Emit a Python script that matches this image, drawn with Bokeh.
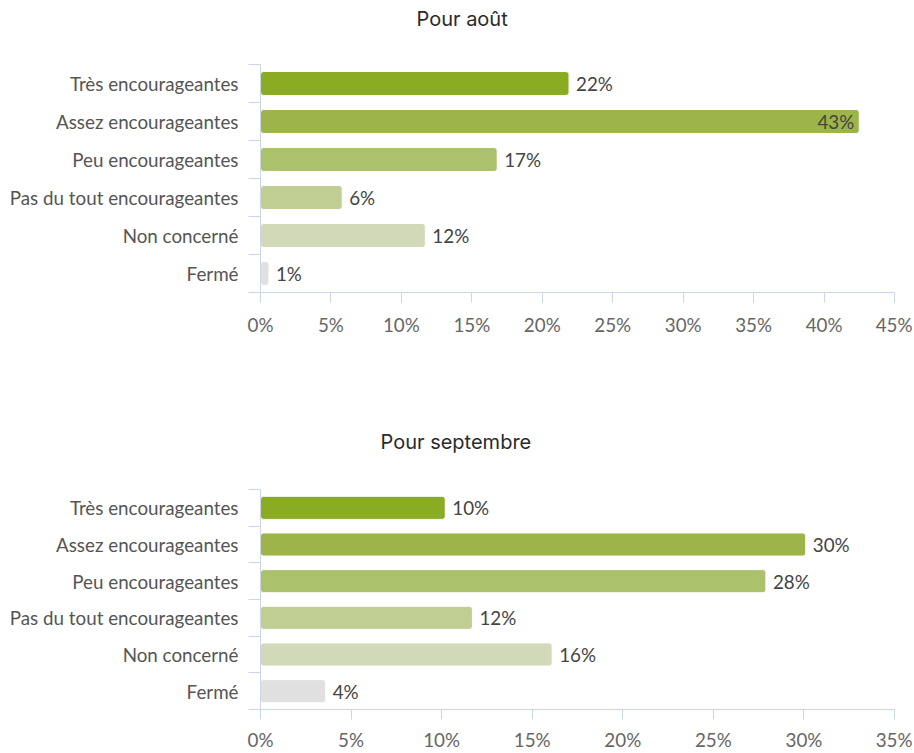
from bokeh.plotting import figure
from bokeh.models import (ColumnDataSource, Range1d, FixedTicker, PrintfTickFormatter,
                          Title)
from bokeh.layouts import column
from bokeh.embed import file_html
from bokeh.resources import INLINE
from bokeh.core.properties import value

# ---------------- data ----------------
categories = ["Très encourageantes", "Assez encourageantes", "Peu encourageantes",
              "Pas du tout encourageantes", "Non concerné", "Fermé"]
aout_values = [21.9, 42.5, 16.8, 5.8, 11.7, 0.6]
aout_labels = ["22%", "43%", "17%", "6%", "12%", "1%"]
sept_values = [10.2, 30.1, 27.9, 11.7, 16.1, 3.6]
sept_labels = ["10%", "30%", "28%", "12%", "16%", "4%"]
aout_ticks = [0, 5, 10, 15, 20, 25, 30, 35, 40, 45]
sept_ticks = [0, 5, 10, 15, 20, 25, 30, 35]
titles = ["Pour août", "Pour septembre"]

colors = ["#8aac23", "#9db548", "#acc16c", "#c0ce94", "#d1d9b8", "#e0e0e0"]
AXIS = "#ccd6eb"
LABEL_FONT = "Lato"
FS = "18.8px"
W = 912


def make_chart(vals, labels, ticks, height, bottom, x_standoff, title, title_offset,
               near_gap, top_gap):
    n = len(categories)
    centers = [n - 1 - i for i in range(n)]
    xmax = ticks[-1]
    align = ["right" if v > 0.9 * xmax else "left" for v in vals]
    xoff = [-5 if a == "right" else 7 for a in align]
    src = ColumnDataSource(dict(y=centers, v=vals, lab=labels, c=colors,
                                align=align, xoff=xoff))
    p = figure(width=W, height=height, output_backend="svg", toolbar_location=None,
               x_range=Range1d(0, xmax), y_range=Range1d(-0.5, n - 0.5),
               min_border_left=260, min_border_right=18,
               min_border_top=0, min_border_bottom=bottom)
    p.outline_line_color = None
    p.xgrid.visible = False
    p.ygrid.visible = False
    p.background_fill_color = "white"
    p.border_fill_color = "white"

    p.hbar(y="y", left=0, right="v", height=0.63, fill_color="c",
           line_color="white", line_width=1, border_radius=3, source=src)
    p.text(x="v", y="y", text="lab", x_offset="xoff", text_align="align",
           text_baseline="middle", text_font=value(LABEL_FONT),
           text_font_size=FS, text_color="#444", source=src)

    # y axis
    ya = p.yaxis[0]
    ya.ticker = FixedTicker(ticks=centers, minor_ticks=[c - 0.5 for c in range(n + 1)])
    ya.major_label_overrides = {c: categories[n - 1 - c] for c in centers}
    ya.axis_line_color = AXIS
    ya.major_tick_out = 0
    ya.major_tick_in = 0
    ya.minor_tick_out = 12
    ya.minor_tick_in = 0
    ya.minor_tick_line_color = AXIS
    ya.major_label_standoff = 10
    ya.major_label_text_font = LABEL_FONT
    ya.major_label_text_font_size = FS
    ya.major_label_text_color = "#555"

    # x axis
    xa = p.xaxis[0]
    xa.ticker = FixedTicker(ticks=ticks, minor_ticks=[])
    xa.formatter = PrintfTickFormatter(format="%d%%")
    xa.axis_line_color = AXIS
    xa.major_tick_line_color = AXIS
    xa.major_tick_out = 10
    xa.major_tick_in = 0
    xa.minor_tick_out = 0
    xa.minor_tick_in = 0
    xa.major_label_standoff = x_standoff
    xa.major_label_text_font = LABEL_FONT
    xa.major_label_text_font_size = FS
    xa.major_label_text_color = "#666"

    # title block: spacer near frame, then title, then spacer on top
    p.add_layout(Title(text=" ", text_font_size="1px", standoff=near_gap), "above")
    p.add_layout(Title(text=title, align="left", offset=title_offset,
                       text_font="Inter", text_font_size="20px", text_color="#2a2a2a",
                       text_font_style="normal", vertical_align="top", standoff=12),
                 "above")
    if top_gap > 0:
        p.add_layout(Title(text=" ", text_font_size="1px", standoff=top_gap), "above")
    return p


p1 = make_chart(aout_values, aout_labels, aout_ticks, 370, 78, 10, titles[0], 156, 23, 0)
p2 = make_chart(sept_values, sept_labels, sept_ticks, 383, 41, 8, titles[1], 120, 25, 50)

layout = column(p1, p2, spacing=0)
open("out.html", "w").write(file_html(layout, INLINE))
